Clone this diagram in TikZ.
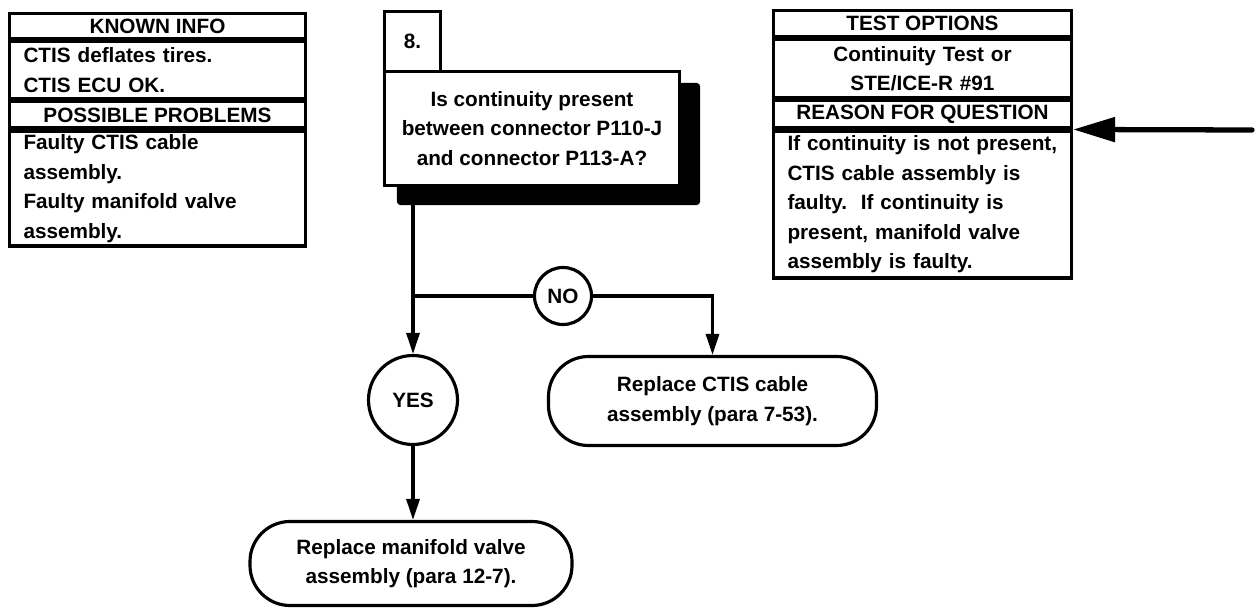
\documentclass[tikz,border=0pt]{standalone}
\usepackage{fontspec}
\setmainfont{Liberation Sans}
\usepackage{tikz}
\usetikzlibrary{arrows.meta, positioning, calc, backgrounds}
\frenchspacing

\begin{document}
\begin{tikzpicture}[every node/.style={font=\fontsize{11.8}{16.8}\selectfont\bfseries},
    box/.style={draw, line width=1.8pt, fill=white, inner sep=0pt},
    head/.style={box, minimum width=#1},
    body/.style={box, text width=#1, inner xsep=0.28cm, align=left},
    circ/.style={box, circle},
    rbox/.style={box, rounded corners=0.8cm, align=center},
    wire/.style={line width=1.8pt},
    flow/.style={wire, -{Triangle[length=0.42cm, width=0.26cm]}},
    bigarrow/.style={line width=3pt, line cap=round, -{Triangle[length=0.84cm, width=0.48cm]}}]
    \useasboundingbox (0,0) rectangle (25.12,-12.16);

    % Known info / possible problems
    \node[head=5.92cm, minimum height=0.5cm, anchor=north] (kinfo) at (3.15,-0.24) {KNOWN INFO};
    \node[body=5.36cm, minimum height=1.14cm, below=0pt of kinfo] (kbody)
      {CTIS deflates tires.\\ CTIS ECU OK.};
    \node[head=5.92cm, minimum height=0.52cm, below=0pt of kbody] (phead) {POSSIBLE PROBLEMS};
    \node[body=5.36cm, minimum height=2.3cm, below=0pt of phead] (pbody)
      {Faulty CTIS cable\\ assembly.\\ Faulty manifold valve\\ assembly.};

    % Test options / reason for question
    \node[head=5.96cm, minimum height=0.52cm, anchor=north] (thead) at (18.45,-0.18) {TEST OPTIONS};
    \node[body=5.4cm, align=center, minimum height=1.16cm, below=0pt of thead] (tbody)
      {Continuity Test or\\ STE/ICE-R \#91};
    \node[head=5.96cm, minimum height=0.54cm, below=0pt of tbody] (rhead) {REASON FOR QUESTION};
    \node[body=5.4cm, minimum height=2.94cm, below=0pt of rhead] (rbody)
      {If continuity is not present,\\ CTIS cable assembly is\\ faulty.~ If continuity is\\
       present, manifold valve\\ assembly is faulty.};

    % Step 8 question
    \node[box, minimum width=1.12cm, minimum height=1.2cm] (num) at (8.25,-0.83) {8.};
    \node[box, minimum width=5.9cm, minimum height=2.28cm, align=center] (q) at (10.64,-2.57)
      {Is continuity present\\ between connector P110-J\\ and connector P113-A?};
    \begin{scope}[on background layer]
      \fill[rounded corners=2pt] ($(q.south west)+(0.28,-0.36)$) rectangle ($(q.north east)+(0.38,-0.26)$);
    \end{scope}

    % Answers
    \node[circ, minimum size=1.14cm] (no) at (11.26,-5.92) {NO};
    \node[circ, minimum size=1.78cm] (yes) at (8.26,-8.0) {YES};
    \node[rbox, minimum width=6.56cm, minimum height=1.78cm] (ctis) at (14.25,-8.02)
      {Replace CTIS cable\\ assembly (para 7-53).};
    \node[rbox, minimum width=6.44cm, minimum height=1.68cm] (mani) at (8.22,-11.27)
      {Replace manifold valve\\ assembly (para 12-7).};

    % Flow lines
    \draw[flow] (yes |- q.south) -- (yes.north);
    \draw[wire] (yes |- no) -- (no.west);
    \draw[flow] (no.east) -| (ctis.north);
    \draw[flow] (yes.south) -- (yes |- mani.north);

    % Pointer to reason
    \coordinate (start) at (25.04,-2.6);
    \draw[bigarrow] (start) -- (rhead.south east);
\end{tikzpicture}
\end{document}
